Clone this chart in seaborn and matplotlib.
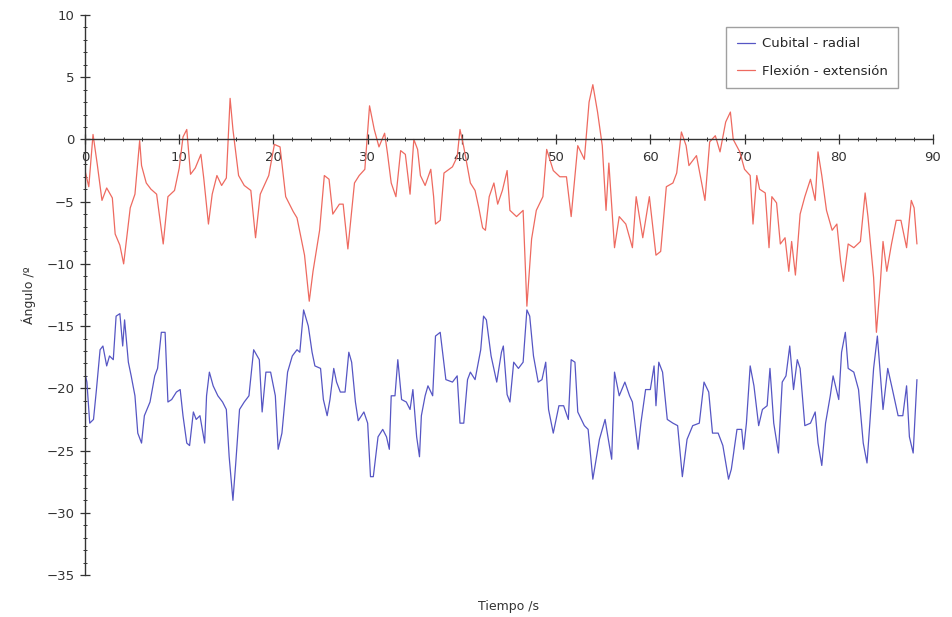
import matplotlib
matplotlib.use("Agg")
import matplotlib.pyplot as plt
import seaborn as sns
from matplotlib.ticker import MultipleLocator

# Flexion - extension
red_time = [0, 0.4, 0.85, 1.3, 1.8, 2.3, 2.9, 3.2, 3.7, 4.1,
            4.8, 5.3, 5.8, 6.0, 6.5, 7.0, 7.6, 8.3, 8.8, 9.5,
            10.0, 10.4, 10.8, 11.2, 11.7, 12.3, 12.6, 13.1, 13.5, 14.0,
            14.5, 15.0, 15.4, 15.7, 16.3, 16.9, 17.6, 18.1, 18.6, 19.5,
            20.1, 20.7, 21.3, 22.1, 22.5, 23.3, 23.8, 24.2, 24.9, 25.4,
            25.9, 26.3, 27.0, 27.4, 27.9, 28.6, 29.1, 29.7, 30.2, 30.7,
            31.2, 31.8, 32.1, 32.5, 33.0, 33.5, 34.0, 34.5, 34.9, 35.3,
            35.6, 36.1, 36.7, 37.0, 37.2, 37.7, 38.1, 39.0, 39.5, 39.8,
            40.2, 40.9, 41.4, 41.8, 42.2, 42.5, 42.9, 43.4, 43.8, 44.3,
            44.8, 45.1, 45.8, 46.5, 46.9, 47.4, 47.9, 48.6, 49.0, 49.7,
            50.4, 51.1, 51.6, 52.3, 53.0, 53.5, 53.9, 54.4, 54.9, 55.3,
            55.6, 56.2, 56.7, 57.4, 58.1, 58.5, 59.2, 59.9, 60.6, 61.1,
            61.7, 62.4, 62.8, 63.3, 63.8, 64.1, 64.9, 65.8, 66.3, 66.9,
            67.4, 68.0, 68.5, 68.8, 69.5, 70.0, 70.6, 70.9, 71.3, 71.6,
            72.2, 72.6, 72.9, 73.4, 73.8, 74.3, 74.7, 75.0, 75.4, 75.9,
            76.4, 77.0, 77.5, 77.8, 78.2, 78.7, 79.3, 79.8, 80.2, 80.5,
            81.0, 81.6, 82.3, 82.8, 83.1, 83.7, 84.0, 84.4, 84.7, 85.1,
            85.6, 86.1, 86.6, 87.2, 87.7, 88.0, 88.3]
red_angle = [-2.5, -3.8, 0.4, -2.0, -4.9, -3.9, -4.7, -7.6, -8.5, -10.0,
             -5.5, -4.4, -0.1, -2.1, -3.5, -4.0, -4.4, -8.4, -4.6, -4.1,
             -2.3, 0.2, 0.8, -2.8, -2.3, -1.2, -3.1, -6.8, -4.4, -2.9,
             -3.7, -3.1, 3.3, 0.8, -2.9, -3.7, -4.1, -7.9, -4.4, -2.9,
             -0.4, -0.6, -4.6, -5.8, -6.3, -9.3, -13.0, -10.6, -7.3, -2.9,
             -3.2, -6.0, -5.2, -5.2, -8.8, -3.5, -2.9, -2.4, 2.7, 0.8,
             -0.6, 0.5, -1.1, -3.5, -4.6, -0.9, -1.2, -4.4, 0.0, -0.8,
             -2.9, -3.7, -2.4, -4.6, -6.8, -6.5, -2.7, -2.2, -1.4, 0.8,
             -0.6, -3.5, -4.1, -5.5, -7.1, -7.3, -4.6, -3.5, -5.2, -4.1,
             -2.5, -5.7, -6.2, -5.7, -13.4, -8.0, -5.7, -4.6, -0.8, -2.5,
             -3.0, -3.0, -6.2, -0.5, -1.6, 3.0, 4.4, 2.2, -0.5, -5.7,
             -1.9, -8.7, -6.2, -6.8, -8.7, -4.6, -7.9, -4.6, -9.3, -9.0,
             -3.8, -3.5, -2.7, 0.6, -0.5, -2.1, -1.3, -4.9, -0.2, 0.3,
             -1.0, 1.4, 2.2, 0.0, -1.0, -2.4, -2.9, -6.8, -2.9, -4.0,
             -4.3, -8.7, -4.6, -5.1, -8.4, -7.9, -10.6, -8.2, -10.9, -6.0,
             -4.6, -3.2, -4.9, -1.0, -2.9, -5.7, -7.3, -6.8, -9.8, -11.4,
             -8.4, -8.7, -8.2, -4.3, -6.2, -11.1, -15.5, -11.7, -8.2, -10.6,
             -8.4, -6.5, -6.5, -8.7, -4.9, -5.5, -8.4]

# Cubital - radial
blue_time = [0, 0.2, 0.5, 0.9, 1.2, 1.6, 1.9, 2.3, 2.6, 3.0,
             3.3, 3.7, 4.0, 4.2, 4.6, 4.9, 5.3, 5.6, 6.0, 6.3,
             6.9, 7.4, 7.7, 8.1, 8.5, 8.8, 9.2, 9.7, 10.1, 10.4,
             10.8, 11.1, 11.5, 11.8, 12.2, 12.7, 12.9, 13.2, 13.6, 14.1,
             14.6, 15.0, 15.3, 15.7, 16.0, 16.4, 16.9, 17.4, 17.9, 18.5,
             18.8, 19.2, 19.7, 20.2, 20.5, 20.9, 21.5, 22.0, 22.5, 22.8,
             23.2, 23.7, 24.1, 24.4, 25.0, 25.3, 25.7, 26.0, 26.4, 26.7,
             27.1, 27.6, 28.0, 28.3, 28.7, 29.0, 29.6, 30.0, 30.3, 30.6,
             31.1, 31.6, 32.0, 32.3, 32.5, 32.9, 33.2, 33.6, 34.1, 34.5,
             34.8, 35.2, 35.5, 35.7, 36.1, 36.4, 36.9, 37.2, 37.7, 38.3,
             39.0, 39.5, 39.8, 40.2, 40.6, 40.9, 41.4, 42.0, 42.3, 42.6,
             43.1, 43.7, 44.2, 44.4, 44.8, 45.1, 45.5, 46.0, 46.5, 46.9,
             47.2, 47.6, 48.1, 48.5, 48.9, 49.2, 49.7, 50.3, 50.8, 51.3,
             51.6, 52.0, 52.3, 53.0, 53.4, 53.9, 54.6, 55.2, 55.5, 55.9,
             56.2, 56.7, 57.3, 57.8, 58.1, 58.7, 59.0, 59.5, 60.0, 60.4,
             60.6, 60.9, 61.3, 61.8, 62.4, 62.9, 63.4, 63.9, 64.5, 65.2,
             65.7, 66.2, 66.6, 67.2, 67.7, 68.3, 68.6, 69.2, 69.7, 69.9,
             70.2, 70.6, 71.0, 71.5, 71.9, 72.4, 72.7, 73.1, 73.6, 74.0,
             74.4, 74.8, 75.2, 75.6, 75.9, 76.4, 77.0, 77.5, 77.8, 78.2,
             78.6, 79.1, 79.4, 80.0, 80.3, 80.7, 81.0, 81.6, 82.1, 82.6,
             83.0, 83.3, 83.7, 84.1, 84.4, 84.7, 85.2, 85.7, 86.3, 86.8,
             87.2, 87.5, 87.9, 88.3]
blue_angle = [-18.8, -19.5, -22.8, -22.5, -20.2, -16.9, -16.6, -18.2, -17.4, -17.7,
              -14.2, -14.0, -16.6, -14.5, -17.9, -19.0, -20.6, -23.6, -24.4, -22.2,
              -21.1, -19.0, -18.4, -15.5, -15.5, -21.1, -20.9, -20.3, -20.1, -22.2,
              -24.4, -24.6, -21.9, -22.5, -22.2, -24.4, -20.6, -18.7, -19.8, -20.6,
              -21.1, -21.7, -25.5, -29.0, -26.0, -21.7, -21.1, -20.6, -16.9, -17.7,
              -21.9, -18.7, -18.7, -20.6, -24.9, -23.6, -18.7, -17.4, -16.9, -17.1,
              -13.7, -15.0, -17.1, -18.2, -18.4, -20.9, -22.2, -20.9, -18.4, -19.5,
              -20.3, -20.3, -17.1, -17.9, -21.1, -22.6, -21.9, -22.8, -27.1, -27.1,
              -23.9, -23.3, -23.9, -24.9, -20.6, -20.6, -17.7, -20.9, -21.1, -21.7,
              -20.1, -23.9, -25.5, -22.2, -20.6, -19.8, -20.6, -15.8, -15.5, -19.3,
              -19.5, -19.0, -22.8, -22.8, -19.3, -18.7, -19.3, -16.9, -14.2, -14.5,
              -17.4, -19.5, -17.1, -16.6, -20.5, -21.1, -17.9, -18.4, -17.9, -13.7,
              -14.2, -17.4, -19.5, -19.3, -17.9, -21.7, -23.6, -21.4, -21.4, -22.5,
              -17.7, -17.9, -21.9, -23.0, -23.3, -27.3, -24.1, -22.5, -23.9, -25.7,
              -18.7, -20.6, -19.5, -20.6, -21.1, -24.9, -22.8, -20.1, -20.1, -18.2,
              -21.4, -17.9, -18.7, -22.5, -22.8, -23.0, -27.1, -24.1, -23.0, -22.8,
              -19.5, -20.3, -23.6, -23.6, -24.6, -27.3, -26.5, -23.3, -23.3, -24.9,
              -22.8, -18.2, -19.8, -23.0, -21.7, -21.4, -18.4, -22.8, -25.2, -19.5,
              -19.0, -16.6, -20.1, -17.7, -18.4, -23.0, -22.8, -21.9, -24.4, -26.2,
              -22.8, -20.6, -19.0, -20.9, -17.1, -15.5, -18.4, -18.7, -20.1, -24.4,
              -26.0, -22.8, -18.4, -15.8, -18.7, -21.7, -18.4, -20.1, -22.2, -22.2,
              -19.8, -23.9, -25.2, -19.3]

sns.set_style("white")
plt.rcParams['font.family'] = ['DejaVu Sans']

fig = plt.figure(figsize=(9.52, 6.17), dpi=100)
ax = fig.add_axes([0.0893, 0.0681, 0.8907, 0.9076])

sns.lineplot(x=blue_time, y=blue_angle, color="#5656c4", linewidth=0.9,
             label="Cubital - radial", ax=ax, sort=False)
sns.lineplot(x=red_time, y=red_angle, color="#ee6a60", linewidth=0.9,
             label="Flexión - extensión", ax=ax, sort=False)

ax.set_xlim(0, 90)
ax.set_ylim(-35, 10)

for side in ["top", "right"]:
    ax.spines[side].set_visible(False)
ax.spines["left"].set_position(("data", 0))
ax.spines["bottom"].set_position(("data", 0))
for side in ["left", "bottom"]:
    ax.spines[side].set_color("#333333")
    ax.spines[side].set_linewidth(1.0)

ax.xaxis.set_major_locator(MultipleLocator(10))
ax.xaxis.set_minor_locator(MultipleLocator(2))
ax.yaxis.set_major_locator(MultipleLocator(5))
ax.yaxis.set_minor_locator(MultipleLocator(1))
ax.tick_params(axis="both", which="both", bottom=True, left=True)
ax.tick_params(axis="both", which="major", direction="inout", length=7,
               width=0.9, color="#333333", labelsize=9.5, labelcolor="#333333")
ax.tick_params(axis="both", which="minor", direction="inout", length=3.5,
               width=0.7, color="#333333")
ax.tick_params(axis="x", pad=5)
ax.tick_params(axis="y", pad=4)

ax.set_xlabel("Tiempo /s", fontsize=9, color="#333333")
ax.xaxis.set_label_coords(0.5, -0.045)
ax.set_ylabel("Ángulo /º", fontsize=9, color="#333333")
ax.yaxis.set_label_coords(-0.058, 0.5)

leg = ax.legend(loc="upper right", bbox_to_anchor=(905 / 952, 1 - 20 / 617),
                bbox_transform=fig.transFigure, fontsize=9.5, frameon=True,
                fancybox=False, edgecolor="#888888", handlelength=1.4,
                labelspacing=1.1, borderpad=0.8, handletextpad=0.5)
leg.get_frame().set_linewidth(1.0)

fig.savefig("out.png", dpi=100)
